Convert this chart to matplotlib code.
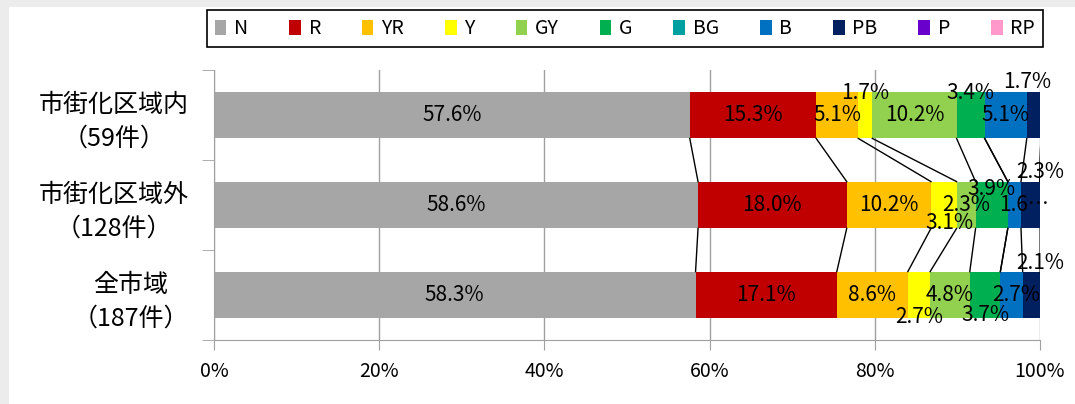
import numpy as np
import matplotlib.pyplot as plt
from matplotlib.patches import Patch, Rectangle
from matplotlib.ticker import FuncFormatter

plt.rcParams['font.family'] = ['Noto Sans CJK JP', 'DejaVu Sans']

# data (percent of cases by hue)
categories = ['市街化区域内\n（59件）', '市街化区域外\n（128件）', '全市域\n（187件）']
series = ['N', 'R', 'YR', 'Y', 'GY', 'G', 'BG', 'B', 'PB', 'P', 'RP']
inside = [57.6, 15.3, 5.1, 1.7, 10.2, 3.4, 0.0, 5.1, 1.7, 0.0, 0.0]
outside = [58.6, 18.0, 10.2, 3.1, 2.3, 3.9, 0.0, 1.6, 2.3, 0.0, 0.0]
whole = [58.3, 17.1, 8.6, 2.7, 4.8, 3.7, 0.0, 2.7, 2.1, 0.0, 0.0]
rows = [inside, outside, whole]

colors = ['#a6a6a6', '#c00000', '#ffc000', '#ffff00', '#92d050', '#00b050',
          '#00a0a0', '#0070c0', '#002060', '#6a00cc', '#ff99cc']

# manually moved labels: (row, series index) -> (dx, dy) in pixels, optional text
label_moves = {
    (0, 3): (0, 22), (0, 5): (0, 22), (0, 8): (-7, 33),
    (1, 3): (6, -18), (1, 5): (0, 16), (1, 7): (10, 0), (1, 8): (10, 33),
    (2, 3): (0, -22), (2, 5): (0, -20), (2, 7): (5, 0), (2, 8): (9, 32),
}
label_text = {(1, 7): '1.6…'}

W, H = 1075, 404
fig = plt.figure(figsize=(W / 100, H / 100), dpi=100, facecolor='#ececec')
fig.patches.append(Rectangle((9 / W, 0), 1 - 9 / W, 1 - 7 / H, transform=fig.transFigure,
                             facecolor='white', edgecolor='none', zorder=-10))

ax = fig.add_axes([214 / W, 1 - 340 / H, 826 / W, 270 / H])
ax.set_facecolor('none')

h = 0.52
y = np.arange(len(categories))
lefts = np.zeros(len(categories))
for k, name in enumerate(series):
    vals = np.array([r[k] for r in rows])
    ax.barh(y, vals, left=lefts, height=h, color=colors[k], edgecolor='none', zorder=2)
    for i in range(len(rows)):
        if vals[i] <= 0:
            continue
        dx, dy = label_moves.get((i, k), (0, 0))
        txt = label_text.get((i, k), f'{vals[i]:.1f}%')
        ax.annotate(txt, (lefts[i] + vals[i] / 2, y[i]), xytext=(dx, dy),
                    textcoords='offset pixels', ha='center', va='center',
                    fontsize=15, color='black', zorder=5, annotation_clip=False)
    lefts = lefts + vals

# series lines between bars
for i in range(len(rows) - 1):
    c0 = np.cumsum(rows[i])
    c1 = np.cumsum(rows[i + 1])
    for k in range(len(series)):
        ax.plot([c0[k], c1[k]], [i + h / 2, i + 1 - h / 2], color='black', lw=1, zorder=3)

ax.set_xlim(0, 100)
ax.set_ylim(2.5, -0.5)
ax.set_xticks(np.arange(0, 101, 20))
ax.xaxis.set_major_formatter(FuncFormatter(lambda v, p: f'{v:.0f}%'))
ax.grid(axis='x', color='#a0a0a0', lw=1, zorder=1)
ax.set_axisbelow(True)

ax.set_yticks(y)
ax.set_yticklabels(categories, fontsize=18, multialignment='center', linespacing=1.4)
ax.set_yticks(np.arange(-0.5, 3, 1), minor=True)
ax.tick_params(axis='y', which='major', length=0, pad=18)
ax.tick_params(axis='y', which='minor', length=9, color='#a0a0a0', direction='out')
ax.tick_params(axis='x', length=7, color='#a0a0a0', labelsize=14, pad=8)

for s in ['top', 'right']:
    ax.spines[s].set_visible(False)
for s in ['left', 'bottom']:
    ax.spines[s].set_color('#a0a0a0')

handles = [Patch(facecolor=c, edgecolor='none') for c in colors]
leg = fig.legend(handles, series, loc='center', ncol=len(series), mode='expand',
                 bbox_to_anchor=(207 / W, 1 - 49 / H, 836 / W, 41 / H), borderaxespad=0,
                 fancybox=False, edgecolor='black', framealpha=1, fontsize=14,
                 handlelength=0.6, handleheight=0.8, handletextpad=0.4)
leg.get_frame().set_linewidth(1.2)

fig.savefig('out.png', dpi=100, facecolor=fig.get_facecolor())
